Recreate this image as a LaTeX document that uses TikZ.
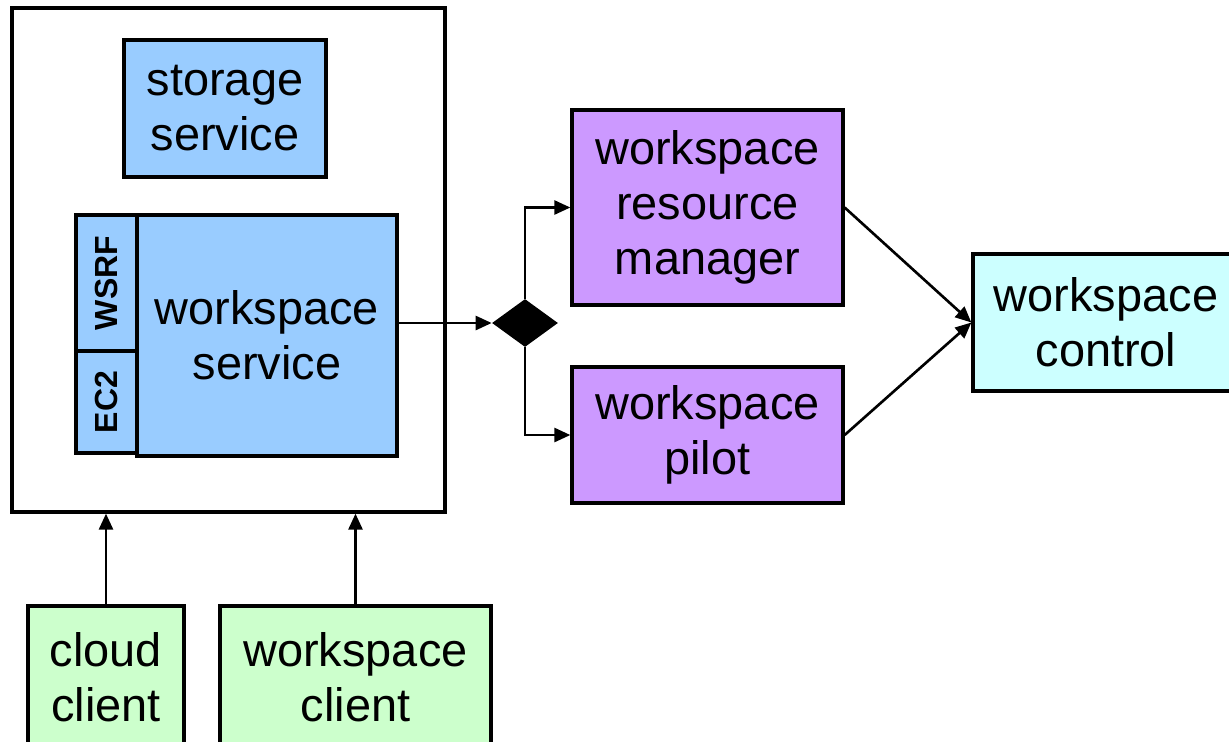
\documentclass[tikz,border=0pt]{standalone}
\usepackage{fontspec}
\usepackage{tikz}
\usetikzlibrary{shapes.geometric,arrows.meta}
\setmainfont{Liberation Sans}
\definecolor{SvcBlue}{HTML}{99CCFF}
\definecolor{MgrPurple}{HTML}{CC99FF}
\definecolor{CtlCyan}{HTML}{CCFFFF}
\definecolor{CliGreen}{HTML}{CCFFCC}
\tikzset{
    box/.style = {
        draw         = black,
        line width   = 1.9pt,
        shape        = rectangle,
        inner sep    = 0pt,
        align        = center,
        font         = \fontsize{26.7}{31.3}\selectfont,
    },
    strip/.style = {
        box,
        fill         = SvcBlue,
        minimum width = 1.22cm,
        font         = \fontsize{18.2}{20}\selectfont\bfseries,
    },
    link/.style = {
        line width   = 1.5pt,
        -{Triangle[length = 0.32cm, width = 0.28cm]},
    },
}

\begin{document}
\begin{tikzpicture}[x = 0.02cm, y = -0.02cm]
    \useasboundingbox (0, 0) rectangle (1229, 741);
    \clip (0, 0) rectangle (1229, 741);

    \node (frame) at (228.5, 260) [box, minimum width = 8.66cm, minimum height = 10.08cm] {};

    \node (store) at (225, 108.5) [box, fill = SvcBlue, minimum width = 4.04cm, minimum height = 2.74cm]
        {storage\\service};
    \node (svc) at (267, 335.5) [box, fill = SvcBlue, minimum width = 5.2cm, minimum height = 4.82cm]
        {workspace\\service};
    \node (wsrf) at (106.5, 283) [strip, minimum height = 2.72cm] {\rotatebox{90}{WSRF}};
    \node (ectwo) at (106.5, 402) [strip, minimum height = 2.04cm] {\rotatebox{90}{EC2}};

    \node (dia) at (525, 323) [shape = diamond, fill = black, inner sep = 0pt,
        minimum width = 1.32cm, minimum height = 0.96cm] {};

    \node (wrm) at (707.5, 207.5) [box, fill = MgrPurple, minimum width = 5.42cm, minimum height = 3.9cm]
        {workspace\\resource\\manager};
    \node (pilot) at (707.5, 435) [box, fill = MgrPurple, minimum width = 5.42cm, minimum height = 2.72cm]
        {workspace\\pilot};
    \node (ctrl) at (1106, 322.5) [box, fill = CtlCyan, minimum width = 5.32cm, minimum height = 2.74cm]
        {workspace\\control};

    \node (cloud) at (106, 677) [box, fill = CliGreen, minimum width = 3.12cm, minimum height = 2.84cm]
        {cloud\\client};
    \node (wclient) at (355.5, 677) [box, fill = CliGreen, minimum width = 5.42cm, minimum height = 2.84cm]
        {workspace\\client};

    \draw[link] (svc.east |- dia.west) -- (dia.west);
    \draw[link] (dia.north) |- (wrm.west);
    \draw[link] (dia.south) |- (pilot.west);
    \draw[link] (wrm.east) -- (ctrl.west);
    \draw[link] (pilot.east) -- (ctrl.west);
    \draw[link] (cloud.north) -- (cloud.north |- frame.south);
    \draw[link] (wclient.north) -- (wclient.north |- frame.south);
\end{tikzpicture}
\end{document}
